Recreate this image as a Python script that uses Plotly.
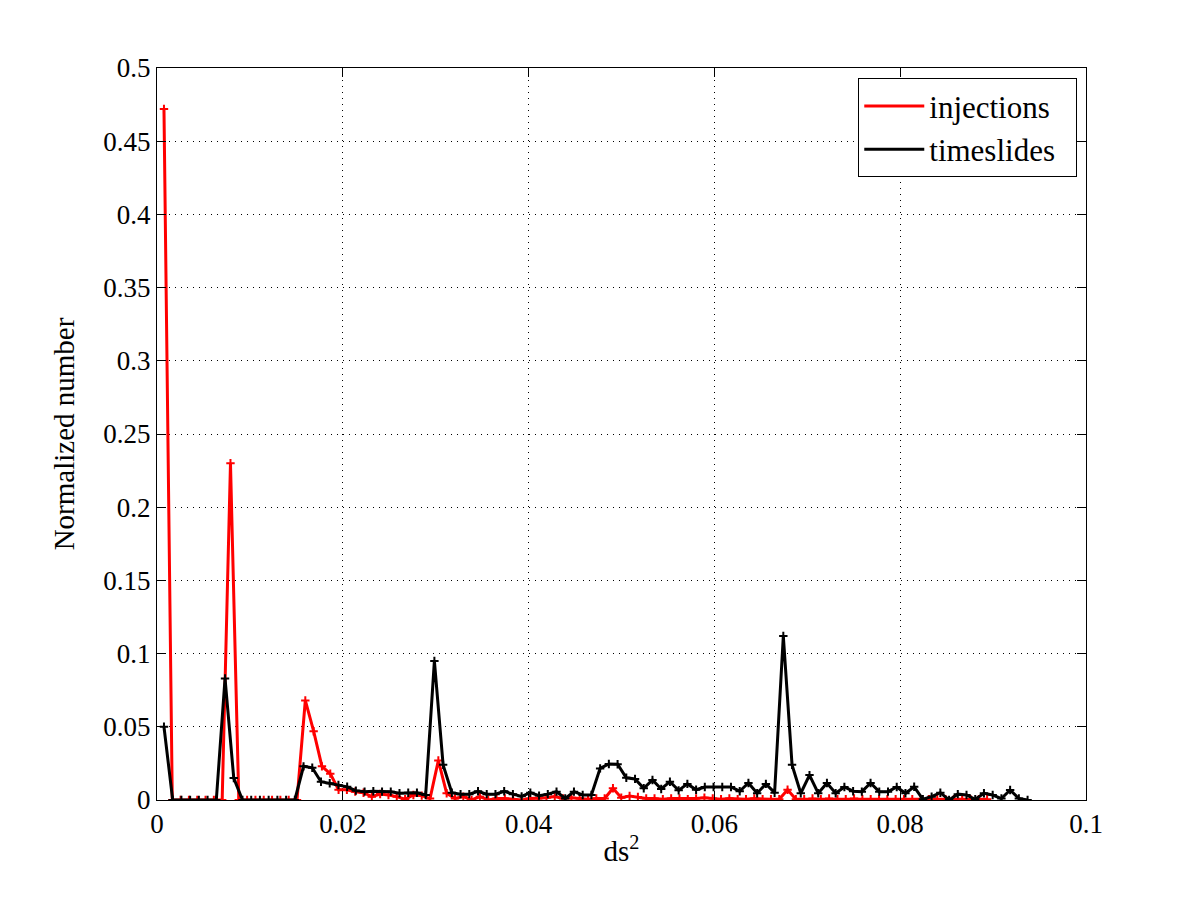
import plotly.graph_objects as go

# ---- data ----
inj_x_start = 0.00075
inj_x_step = 0.000895
ts_x_start = 0.00075
ts_x_step = 0.000939

injections = [
    0.472, 0, 0, 0, 0, 0, 0, 0, 0.23, 0,
    0, 0, 0, 0, 0, 0, 0, 0.068, 0.047, 0.023,
    0.018, 0.007, 0.007, 0.0057, 0.005, 0.0023, 0.0041, 0.0034, 0.0023, 0.0005,
    0.0034, 0.003, 0.001, 0.027, 0.0046, 0.001, 0.0023, 0, 0.0023, 0,
    0.001, 0.001, 0.0005, 0, 0.001, 0.001, 0.0015, 0.0023, 0.001, 0.0015,
    0.001, 0.0005, 0.001, 0.001, 0.008, 0.0016, 0.0027, 0.002, 0.001, 0.001,
    0.0005, 0.001, 0.001, 0.0005, 0.001, 0.0015, 0.001, 0.0005, 0.001, 0.0005,
    0.0005, 0.001, 0.0005, 0.0005, 0.0005, 0.007, 0.0005, 0.0005, 0.001, 0.0005,
    0.001, 0.0005, 0.0005, 0.001, 0.0005, 0.0005, 0.0005, 0.0005, 0.0005, 0.0005,
    0.0005, 0.0005, 0.0005, 0.0005, 0.0005, 0.0005, 0.0005, 0.0005, 0.0005, 0.0005,
]

timeslides = [
    0.050, 0, 0, 0, 0, 0, 0, 0.083, 0.015, 0,
    0, 0, 0, 0, 0, 0, 0.023, 0.022, 0.0125, 0.0114,
    0.0102, 0.009, 0.0064, 0.0057, 0.006, 0.0057, 0.0057, 0.0046, 0.005, 0.005,
    0.0034, 0.095, 0.024, 0.005, 0.004, 0.004, 0.006, 0.004, 0.004, 0.006,
    0.004, 0.0025, 0.005, 0.003, 0.004, 0.0057, 0.001, 0.0057, 0.0034, 0.0034,
    0.0216, 0.0246, 0.0244, 0.0152, 0.0144, 0.008, 0.0137, 0.0075, 0.0125, 0.0066,
    0.011, 0.007, 0.0089, 0.0089, 0.0089, 0.0089, 0.006, 0.0116, 0.0046, 0.011,
    0.005, 0.112, 0.024, 0.0046, 0.017, 0.0046, 0.0116, 0.0046, 0.0089, 0.006,
    0.0057, 0.0116, 0.0057, 0.0057, 0.0089, 0.0046, 0.009, 0.0005, 0.0023, 0.005,
    0, 0.004, 0.0034, 0.0005, 0.0046, 0.0034, 0.001, 0.0068, 0.001, 0,
]

inj_x = [inj_x_start + i * inj_x_step for i in range(len(injections))]
ts_x = [ts_x_start + i * ts_x_step for i in range(len(timeslides))]

x_ticks = [0, 0.02, 0.04, 0.06, 0.08, 0.1]
x_tick_labels = ["0", "0.02", "0.04", "0.06", "0.08", "0.1"]
y_ticks = [0, 0.05, 0.1, 0.15, 0.2, 0.25, 0.3, 0.35, 0.4, 0.45, 0.5]
y_tick_labels = ["0", "0.05", "0.1", "0.15", "0.2", "0.25", "0.3", "0.35", "0.4", "0.45", "0.5"]

FONT = "Liberation Serif"

fig = go.Figure()

for name, xs, ys, col in [("injections", inj_x, injections, "#ff0000"),
                          ("timeslides", ts_x, timeslides, "#000000")]:
    fig.add_trace(go.Scatter(
        x=xs, y=ys, mode="lines+markers", name=name, showlegend=False,
        line=dict(color=col, width=3),
        marker=dict(symbol="cross-thin", size=6, color=col, line=dict(color=col, width=2)),
    ))
    # legend-only entry (line sample without marker)
    fig.add_trace(go.Scatter(
        x=[None], y=[None], mode="lines", name=name + "\u00a0\u00a0", showlegend=True,
        line=dict(color=col, width=3),
    ))

axis_common = dict(
    showline=True, linecolor="black", linewidth=1, mirror="allticks",
    ticks="inside", ticklen=9, tickwidth=1, tickcolor="black",
    showgrid=True, gridcolor="black", gridwidth=1, griddash="1px,5px",
    zeroline=False,
    tickfont=dict(family=FONT, size=27, color="black"),
)

fig.update_xaxes(
    range=[0, 0.1], tickvals=x_ticks, ticktext=x_tick_labels,
    title=dict(text="ds<sup>2</sup>", font=dict(family=FONT, size=29, color="black"), standoff=2),
    **axis_common,
)
fig.update_yaxes(
    range=[0, 0.5], tickvals=y_ticks, ticktext=y_tick_labels,
    title=dict(text="Normalized number", font=dict(family=FONT, size=29, color="black"), standoff=20),
    **axis_common,
)

fig.update_layout(
    width=1200, height=900,
    margin=dict(l=149, r=122, t=60, b=108),
    paper_bgcolor="white", plot_bgcolor="white",
    font=dict(family=FONT, size=27, color="black"),
    legend=dict(
        x=0.9906, y=0.986, xanchor="right", yanchor="top",
        bgcolor="white", bordercolor="black", borderwidth=1,
        font=dict(family=FONT, size=31, color="black"),
        tracegroupgap=0, itemwidth=60,
    ),
)

fig.write_html("out.html")
